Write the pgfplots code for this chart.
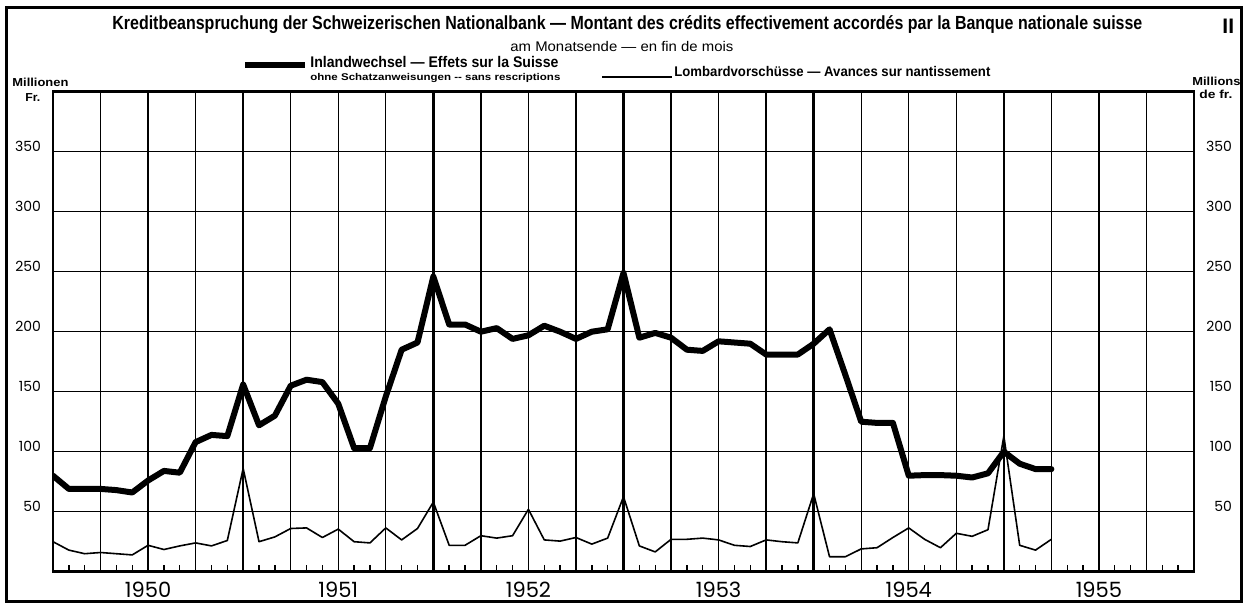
\documentclass[border=0pt]{standalone}
\usepackage{graphicx}
\usepackage{fontspec}
\setmainfont{Liberation Sans}
\newfontfamily\geo{Poppins}
\usepackage{pgfplots}
\usepackage{pgfplotstable}
\pgfplotsset{compat=1.18}

% month index: 0 = Dec 1949, 12 = Dec 1950, ...
\pgfplotstableread{
m v
0 80
1 69
2 69
3 69
4 68
5 66
6 76
7 84
8 82.5
9 108
10 114
11 113
12 156
13 122
14 130
15 155
16 160
17 158
18 140
19 103
20 103
21 146
22 185
23 191
24 246
25 206
26 206
27 200
28 203
29 194
30 197
31 205
32 200
33 194
34 200
35 202
36 249
37 195
38 199
39 195
40 185
41 184
42 192
43 191
44 190
45 181
46 181
47 181
48 190
49 202
50 164
51 125
52 124
53 124
54 80
55 80.5
56 80.5
57 80
58 78.5
59 82
60 100
61 90
62 85.5
63 85.5
}\inland

\pgfplotstableread{
m v
0 25
1 18
2 15
3 16
4 15
5 14
6 22
7 18.5
8 21.5
9 24
10 21.5
11 26
12 86
13 25
14 29
15 36
16 36.5
17 28.5
18 35.5
19 25
20 24
21 36.5
22 26.5
23 36
24 58
25 22
26 22
27 30
28 28
29 30
30 52
31 26.5
32 25.5
33 28.5
34 23
35 28
36 62.5
37 21.5
38 16.5
39 27
40 27
41 28
42 26.5
43 22
44 21
45 26.5
46 25
47 24
48 65
49 12.5
50 12.5
51 19
52 20
53 28.5
54 36.5
55 27
56 20
57 32
58 29.5
59 35
60 113
61 22
62 18
63 27
}\lombard

\begin{document}
\begin{tikzpicture}
\path[use as bounding box] (0pt,0pt) rectangle (626pt,-302.5pt);

\begin{axis}[
  at={(26.5pt,-285.85pt)}, anchor=south west,
  scale only axis, width=570.5pt, height=240pt,
  xmin=0, xmax=72, ymin=0, ymax=400,
  xtick={0,3,...,72},
  xticklabels={,,1950,,,,1951,,,,1952,,,,1953,,,,1954,,,,1955,,},
  minor xtick={0,1,...,72},
  ytick={50,100,...,350},
  grid=major,
  major grid style={line width=0.7pt, black},
  major tick length=0pt, minor tick length=3.5pt,
  tick align=inside, xtick pos=left, ytick pos=left,
  minor tick style={line width=0.7pt, black},
  axis line style={line width=1.3pt},
  extra x ticks={12,24,36,48,60},
  extra x tick labels={},
  extra x tick style={grid=major, major grid style={line width=1.3pt, black}},
  xticklabel style={font=\geo\fontsize{10.5}{11}\selectfont, yshift=-1.5pt},
  yticklabel style={font=\geo\fontsize{7}{8}\selectfont, anchor=base east, xshift=-2.5pt},
  /pgf/number format/assume math mode=true,
]
\addplot[line width=3pt, line join=round, line cap=round, black] table[x=m, y=v] {\inland};
\addplot[line width=0.8pt, line join=round, black] table[x=m, y=v] {\lombard};
\end{axis}

\begin{axis}[
  at={(26.5pt,-285.85pt)}, anchor=south west,
  scale only axis, width=570.5pt, height=240pt,
  xmin=0, xmax=72, ymin=0, ymax=400,
  hide x axis, axis y line*=right, y axis line style={draw=none},
  ytick={50,100,...,350}, major tick length=0pt,
  yticklabel style={font=\geo\fontsize{7}{8}\selectfont, anchor=base east, xshift=22.5pt},
  /pgf/number format/assume math mode=true,
]
\addplot[draw=none] coordinates {(0,0)};
\end{axis}

\begin{scope}[x=0.5pt, y=-0.5pt]
\draw[line width=1.5pt] (6.5,7.5) rectangle (1241,601.5);
\node[anchor=base west, inner sep=0, font=\bfseries\fontsize{9.5}{10}\selectfont] at (112,29)
  {\resizebox{515pt}{\height}{Kreditbeanspruchung der Schweizerischen Nationalbank --- Montant des crédits effectivement accordés par la Banque nationale suisse}};
\node[anchor=base west, inner sep=0, font=\bfseries\fontsize{10.5}{11}\selectfont] at (1222,33) {II};
\node[anchor=base west, inner sep=0, font=\fontsize{7}{8}\selectfont] at (510,51.5)
  {\resizebox{111.5pt}{\height}{am Monatsende --- en fin de mois}};
\draw[line width=2.6pt] (245,65) -- (305,65);
\node[anchor=base west, inner sep=0, font=\bfseries\fontsize{7.7}{8}\selectfont] at (310,68)
  {\resizebox{124pt}{\height}{Inlandwechsel --- Effets sur la Suisse}};
\node[anchor=base west, inner sep=0, font=\bfseries\fontsize{4.9}{5}\selectfont] at (310,80.7)
  {\resizebox{125pt}{\height}{ohne Schatzanweisungen -{}- sans rescriptions}};
\draw[line width=0.6pt] (602,77) -- (672,77);
\node[anchor=base west, inner sep=0, font=\bfseries\fontsize{7}{8}\selectfont] at (674,76)
  {\resizebox{158pt}{\height}{Lombardvorschüsse --- Avances sur nantissement}};
\node[anchor=base west, inner sep=0, font=\bfseries\fontsize{5.8}{6}\selectfont] at (12,86.7)
  {\resizebox{28pt}{\height}{Millionen}};
\node[anchor=base west, inner sep=0, font=\bfseries\fontsize{5.8}{6}\selectfont] at (25,101.7)
  {\resizebox{7.5pt}{\height}{Fr.}};
\node[anchor=base west, inner sep=0, font=\bfseries\fontsize{5.8}{6}\selectfont] at (1192,85)
  {\resizebox{24pt}{\height}{Millions}};
\node[anchor=base west, inner sep=0, font=\bfseries\fontsize{5.8}{6}\selectfont] at (1199,98.5)
  {\resizebox{16.5pt}{\height}{de fr.}};
\end{scope}
\end{tikzpicture}
\end{document}
